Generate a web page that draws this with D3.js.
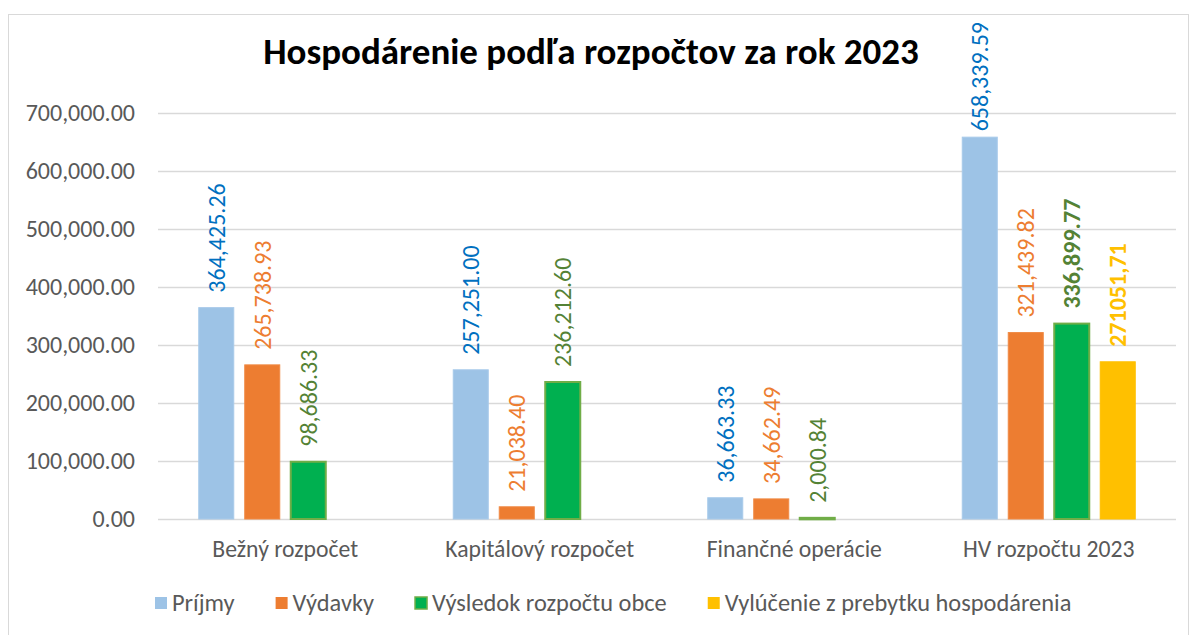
<!DOCTYPE html>
<html>
<head>
<meta charset="utf-8">
<script src="https://cdn.jsdelivr.net/npm/d3@7/dist/d3.min.js"></script>
<style>
  html, body { margin: 0; padding: 0; background: #fff; }
  svg { display: block; }
  text { font-family: Carlito, Calibri, Lato, "Open Sans", sans-serif; }
</style>
</head>
<body>
<svg id="chart" width="1196" height="635"></svg>
<script>
const categories = ["Bežný rozpočet", "Kapitálový rozpočet", "Finančné operácie", "HV rozpočtu 2023"];
const seriesNames = ["Príjmy", "Výdavky", "Výsledok rozpočtu obce", "Vylúčenie z prebytku hospodárenia"];
const prijmy = [364425.26, 257251.00, 36663.33, 658339.59];
const vydavky = [265738.93, 21038.40, 34662.49, 321439.82];
const vysledok = [98686.33, 236212.60, 2000.84, 336899.77];
const vylucenie = [null, null, null, 271051.71];
const yTicks = [0, 100000, 200000, 300000, 400000, 500000, 600000, 700000];
const title = "Hospodárenie podľa rozpočtov za rok 2023";

const fmtUS = d3.format(",.2f");
const fmtSK = d => d.toFixed(2).replace(".", ",");

const series = [
  { name: seriesNames[0], values: prijmy, fill: "#9DC3E6", stroke: "#A8CAEA", label: "#0070C0", fmt: fmtUS, bold: [] },
  { name: seriesNames[1], values: vydavky, fill: "#ED7D31", stroke: "#F08A45", label: "#ED7D31", fmt: fmtUS, bold: [] },
  { name: seriesNames[2], values: vysledok, fill: "#00B050", stroke: "#70AD47", label: "#548235", fmt: fmtUS, bold: [3] },
  { name: seriesNames[3], values: vylucenie, fill: "#FFC000", stroke: "#FFC000", label: "#FFC000", fmt: fmtSK, bold: [3] }
];

const FONT = "Carlito, Calibri, Lato, 'Open Sans', sans-serif";
const svg = d3.select("#chart");

// chart frame
svg.append("rect").attr("x", 8.5).attr("y", 14.5).attr("width", 1180).attr("height", 640)
  .attr("fill", "#fff").attr("stroke", "#D9D9D9").attr("stroke-width", 1);

const plot = { left: 158, right: 1176, top: 113, bottom: 519 };

const y = d3.scaleLinear().domain([0, 700000]).range([plot.bottom, plot.top]);
const x0 = d3.scaleBand().domain(categories).range([plot.left, plot.right])
  .paddingInner(0.3163).paddingOuter(0.3163 / 2);
const x1 = d3.scaleBand().domain(d3.range(series.length)).range([0, x0.bandwidth()])
  .paddingInner(0.217).paddingOuter(0);

// gridlines + y labels via axis
const yAxis = d3.axisLeft(y).tickValues(yTicks).tickFormat(fmtUS)
  .tickSize(-(plot.right - plot.left)).tickPadding(23);
const gy = svg.append("g").attr("transform", `translate(${plot.left},0)`).call(yAxis);
gy.select(".domain").remove();
gy.selectAll(".tick line").attr("stroke", "#D9D9D9").attr("stroke-width", 1.5);
gy.selectAll(".tick text").attr("fill", "#595959").style("font-size", "24px")
  .style("font-family", FONT);

// x category labels
const xAxis = d3.axisBottom(x0).tickSize(0).tickPadding(21);
const gx = svg.append("g").attr("transform", `translate(0,${plot.bottom})`).call(xAxis);
gx.select(".domain").remove();
gx.selectAll(".tick text").attr("fill", "#595959").style("font-size", "23.7px")
  .style("font-family", FONT);

// bars
series.forEach((s, si) => {
  const g = svg.append("g");
  const data = categories.map((c, i) => ({ c, i, v: s.values[i] })).filter(d => d.v != null);
  g.selectAll("rect").data(data).join("rect")
    .attr("x", d => x0(d.c) + x1(si) + 0.5)
    .attr("width", x1.bandwidth() - 1)
    .attr("y", d => y(d.v))
    .attr("height", d => Math.max(1.5, y(0) - y(d.v)))
    .attr("fill", s.fill)
    .attr("stroke", s.stroke)
    .attr("stroke-width", si === 2 ? 2 : 1);

  g.selectAll("text").data(data).join("text")
    .text(d => s.fmt(d.v))
    .attr("fill", s.label)
    .style("font-size", "24px")
    .style("font-weight", d => s.bold.includes(d.i) ? "bold" : "normal")
    .attr("text-anchor", "start")
    .attr("dominant-baseline", "central")
    .each(function (d) {
      const len = this.getComputedTextLength();
      let bottom = y(d.v) - 15;
      if (bottom - len < 22) bottom = 22 + len;
      const cx = x0(d.c) + x1(si) + x1.bandwidth() / 2;
      d3.select(this).attr("transform", `translate(${cx},${bottom}) rotate(-90)`);
    });
});

// title
svg.append("text").attr("x", 591).attr("y", 64).attr("text-anchor", "middle")
  .attr("fill", "#000").style("font-size", "37px").style("font-weight", "bold")
  .text(title);

// legend
const legend = svg.append("g");
let lx = 155;
series.forEach((s, si) => {
  legend.append("rect").attr("x", lx).attr("y", 597).attr("width", 12).attr("height", 12)
    .attr("fill", s.fill).attr("stroke", si === 2 ? s.stroke : "none").attr("stroke-width", 1.5);
  const t = legend.append("text").attr("x", lx + 17).attr("y", 603).attr("dominant-baseline", "central")
    .attr("fill", "#595959").style("font-size", "24.4px").text(s.name);
  lx = lx + 17 + t.node().getComputedTextLength() + 41;
});
</script>
</body>
</html>
